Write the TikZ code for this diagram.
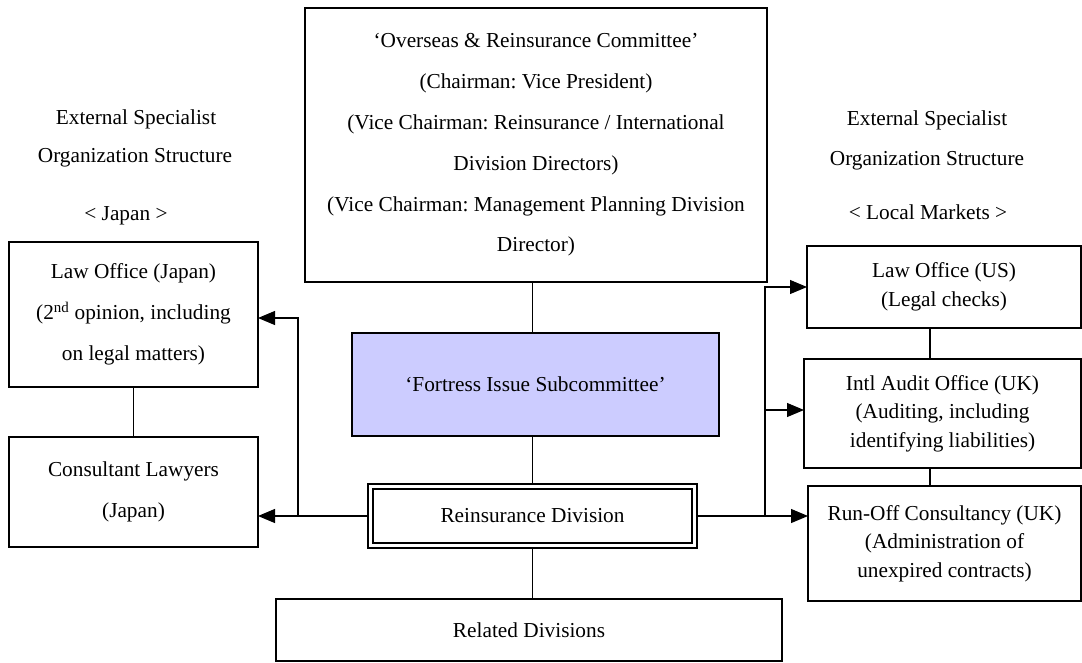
\documentclass[tikz,border=0pt]{standalone}
\usepackage{fontspec}
\setmainfont{Liberation Serif}
\usetikzlibrary{arrows.meta,calc}
\definecolor{fortfill}{HTML}{CCCCFF}
\frenchspacing
\begin{document}
\begin{tikzpicture}[x=1pt,y=-1pt,
  box/.style={draw=black, line width=1.1pt, inner sep=0pt, outer sep=0pt, align=center,
    font=\fontsize{21.3}{40.8}\selectfont},
  tight/.style={font=\fontsize{21.3}{28.5}\selectfont},
  hdr/.style={inner sep=0pt, anchor=base, font=\fontsize{21.3}{25}\selectfont},
  link/.style={line width=1.1pt},
  arr/.style={line width=1.1pt, -{Triangle[length=17pt,width=14pt]}}]
\useasboundingbox (0,0) rectangle (1082,662);

% headers
\node[hdr] (lh1) at (136,124) {External Specialist};
\node[hdr] (lh2) at (135,162) {Organization Structure};
\node[hdr] (lh3) at (126,220) {< Japan >};
\node[hdr] (rh1) at (927,125) {External Specialist};
\node[hdr] (rh2) at (927,165) {Organization Structure};
\node[hdr] (rh3) at (928,219) {< Local Markets >};

% centre column
\node[box, minimum width=462pt, minimum height=274pt] (top) at (536,145)
  {‘Overseas \& Reinsurance Committee’\\(Chairman: Vice President)\\(Vice Chairman: Reinsurance / International\\Division Directors)\\(Vice Chairman: Management Planning Division\\Director)};
\node[box, fill=fortfill, minimum width=367pt, minimum height=103pt] (fort) at (535.5,384.5)
  {‘Fortress Issue Subcommittee’};
\node[box, double, double distance=3pt, line width=1.8pt, outer sep=3.3pt,
  minimum width=324pt, minimum height=59pt] (rd) at (532.5,516) {Reinsurance Division};
\node[box, minimum width=506pt, minimum height=62pt] (rel) at (529,630) {Related Divisions};

% left column
\node[box, minimum width=249pt, minimum height=145pt] (lawjp) at (133.5,314.5)
  {Law Office (Japan)\\(2\textsuperscript{nd} opinion, including\\on legal matters)};
\node[box, minimum width=249pt, minimum height=110pt] (consult) at (133.5,492)
  {Consultant Lawyers\\(Japan)};

% right column
\node[box, tight, minimum width=274pt, minimum height=82pt] (lawus) at (944,287)
  {Law Office (US)\\(Legal checks)};
\node[box, tight, minimum width=277pt, minimum height=109pt] (intl) at (942.5,413.5)
  {Intl Audit Office (UK)\\(Auditing, including\\identifying liabilities)};
\node[box, tight, minimum width=273pt, minimum height=115pt] (runoff) at (944.5,543.5)
  {Run-Off Consultancy (UK)\\(Administration of\\unexpired contracts)};

% vertical links
\draw[link] (rd.north |- top.south) -- (rd.north |- fort.north);
\draw[link] (rd.north |- fort.south) -- (rd.north);
\draw[link] (rd.south) -- (rd.south |- rel.north);
\draw[link] (lawjp.south) -- (consult.north);
\draw[link] ([xshift=-14pt]lawus.south) -- ([xshift=-14pt]lawus.south |- intl.north);
\draw[link] ([xshift=-12.5pt]intl.south) -- ([xshift=-12.5pt]intl.south |- runoff.north);

% left arrows
\coordinate (jL) at (298,516);
\draw[arr] (rd.west) -- (consult.east |- rd.west);
\draw[arr] (jL) |- ($(lawjp.east)+(0,3.5)$);

% right arrows
\coordinate (jR) at (765,516);
\draw[arr] (rd.east) -- (runoff.west |- rd.east);
\draw[arr] (jR) |- (lawus.west);
\draw[arr] ($(jR |- intl.west)+(0,-3.5)$) -- ($(intl.west)+(0,-3.5)$);
\end{tikzpicture}
\end{document}
